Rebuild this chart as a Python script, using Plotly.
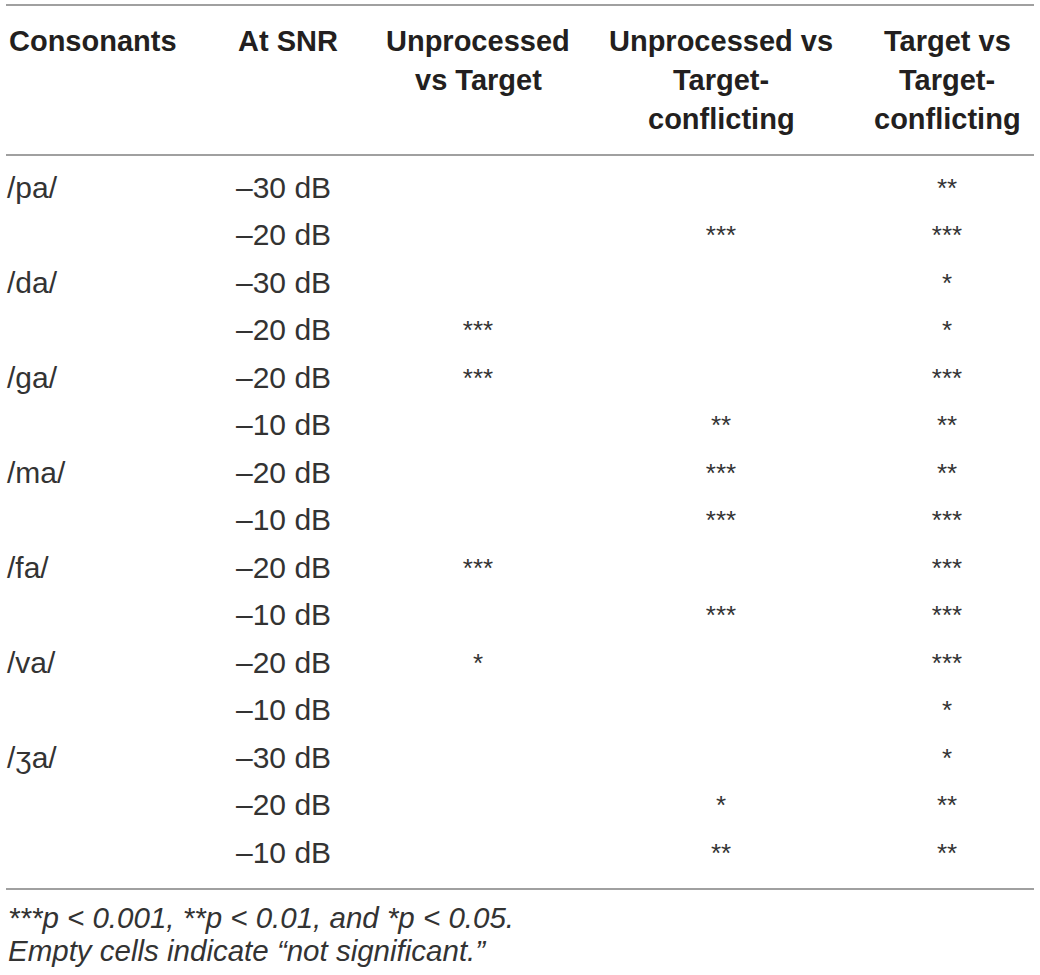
import plotly.graph_objects as go

# ---- data ----
consonants = ["/pa/", "", "/da/", "", "/ga/", "", "/ma/", "", "/fa/", "", "/va/", "", "/ʒa/", "", ""]
snr = ["–30 dB", "–20 dB", "–30 dB", "–20 dB", "–20 dB", "–10 dB", "–20 dB", "–10 dB",
       "–20 dB", "–10 dB", "–20 dB", "–10 dB", "–30 dB", "–20 dB", "–10 dB"]
unproc_vs_target = ["", "", "", "***", "***", "", "", "", "***", "", "*", "", "", "", ""]
unproc_vs_conflicting = ["", "***", "", "", "", "**", "***", "***", "", "***", "", "", "", "*", "**"]
target_vs_conflicting = ["**", "***", "*", "*", "***", "**", "**", "***", "***", "***", "***", "*", "*", "**", "**"]

headers = [
    ["Consonants"],
    ["At SNR"],
    ["Unprocessed", "vs Target"],
    ["Unprocessed vs", "Target-", "conflicting"],
    ["Target vs", "Target-", "conflicting"],
]
footnotes = [
    "***p < 0.001, **p < 0.01, and *p < 0.05.",
    "Empty cells indicate “not significant.”",
]

# ---- layout constants (pixels) ----
W, H = 1040, 975
col_x = [7, 236, 478, 721, 947]
col_align = ["left", "left", "center", "center", "center"]
first_row_y = 190
row_step = 47.5
header_line_y = [41, 80, 119]
rule_y = [5, 155, 889]
foot_y = [917, 950]

FAM = "Liberation Sans, Arial, sans-serif"
body_font = dict(family=FAM, size=30, color="#333333")
star_font = dict(family=FAM, size=26, color="#333333")
head_font = dict(family=FAM, size=29, color="#231f20", weight="bold")
foot_font = dict(family=FAM, size=29.5, color="#333333", style="italic")

fig = go.Figure()

columns = [consonants, snr, unproc_vs_target, unproc_vs_conflicting, target_vs_conflicting]
n = len(snr)
ys = [first_row_y + i * row_step for i in range(n)]

for ci, col in enumerate(columns):
    is_star = ci >= 2
    fig.add_trace(go.Scatter(
        x=[col_x[ci]] * n,
        y=ys,
        text=col,
        mode="text",
        textposition="middle right" if col_align[ci] == "left" else "middle center",
        textfont=star_font if is_star else body_font,
        hoverinfo="skip",
        showlegend=False,
    ))

annotations = []
for ci, lines in enumerate(headers):
    for li, line in enumerate(lines):
        annotations.append(dict(
            x=col_x[ci], y=header_line_y[li], xref="x", yref="y",
            text=line, showarrow=False,
            xanchor="left" if col_align[ci] == "left" else "center",
            yanchor="middle", font=head_font,
        ))
for fi, line in enumerate(footnotes):
    annotations.append(dict(
        x=6, y=foot_y[fi], xref="x", yref="y",
        text=line, showarrow=False, xanchor="left", yanchor="middle", font=foot_font,
    ))

shapes = [
    dict(type="line", xref="x", yref="y", x0=6, x1=1034, y0=y, y1=y,
         line=dict(color="#a0a0a0", width=2))
    for y in rule_y
]

fig.update_layout(
    width=W, height=H,
    margin=dict(l=0, r=0, t=0, b=0),
    paper_bgcolor="white", plot_bgcolor="white",
    xaxis=dict(range=[0, W], visible=False, fixedrange=True),
    yaxis=dict(range=[H, 0], visible=False, fixedrange=True),
    annotations=annotations,
    shapes=shapes,
)

fig.write_html(
    "out.html",
    config={"displayModeBar": False},
    post_script="document.body.style.margin='0';document.body.style.overflow='hidden';",
)
